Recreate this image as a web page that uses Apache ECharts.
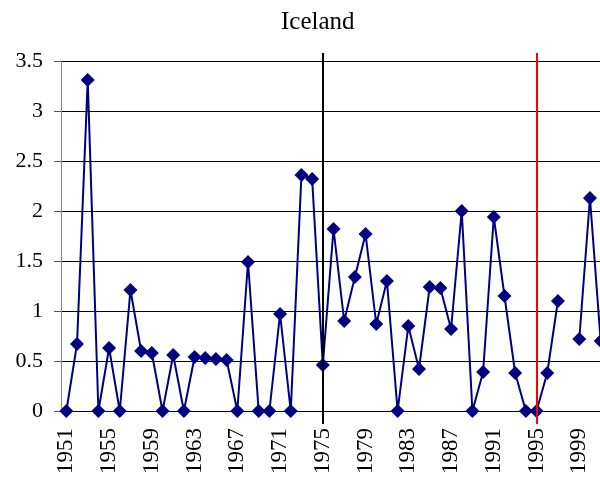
<!DOCTYPE html>
<html>
  <head>
    <meta charset="utf-8" />
    <script src="https://cdn.jsdelivr.net/npm/echarts@6.0.0/dist/echarts.min.js"></script>
    <style>
      html, body { margin: 0; padding: 0; background: #fff; }
    </style>
  </head>
  <body>
    <div id="main" style="width: 600px; height: 479px"></div>

    <script type="text/javascript">
      // years on the category axis, 1951..2001
      var years = [];
      for (var y = 1951; y <= 2001; y++) years.push(String(y));

      // Iceland values (1998 has no value)
      var values = [
        0, 0.67, 3.31, 0, 0.63, 0, 1.21, 0.60, 0.58, 0,
        0.56, 0, 0.54, 0.53, 0.52, 0.51, 0, 1.49, 0, 0,
        0.97, 0, 2.36, 2.32, 0.46, 1.82, 0.90, 1.34, 1.77, 0.87,
        1.30, 0, 0.85, 0.42, 1.24, 1.23, 0.82, 2.00, 0, 0.39,
        1.94, 1.15, 0.38, 0, 0, 0.38, 1.10, null, 0.72, 2.13,
        0.70
      ];

      // vertical marker years
      var blackLineYear = "1975";
      var redLineYear = "1995";

      var serif = "Liberation Serif";
      var myChart = echarts.init(document.getElementById("main"));

      var option = {
        animation: false,
        backgroundColor: "#fff",
        title: {
          text: "Iceland",
          left: 276,
          top: 5,
          textStyle: { fontFamily: serif, fontWeight: "normal", fontSize: 25, color: "#000" }
        },
        grid: [
          { left: 61, top: 61, width: 545, height: 350, outerBoundsMode: "none", containLabel: false },
          { left: 61, top: 53, width: 545, height: 371, outerBoundsMode: "none", containLabel: false }
        ],
        xAxis: [
          {
            type: "category",
            gridIndex: 0,
            data: years,
            boundaryGap: true,
            axisLine: { lineStyle: { color: "#000", width: 1 } },
            axisTick: { interval: 0, length: 7, lineStyle: { color: "#666" } },
            axisLabel: {
              interval: 3,
              rotate: 90,
              margin: 17,
              fontFamily: serif,
              fontSize: 23,
              color: "#000"
            }
          },
          {
            type: "category",
            gridIndex: 1,
            data: years,
            boundaryGap: true,
            show: false
          }
        ],
        yAxis: [
          {
            type: "value",
            gridIndex: 0,
            min: 0,
            max: 3.5,
            interval: 0.5,
            axisLine: { show: true, lineStyle: { color: "#888", width: 1 } },
            axisTick: { show: true, length: 7, lineStyle: { color: "#555" } },
            axisLabel: {
              margin: 18,
              fontFamily: serif,
              fontSize: 22,
              color: "#000"
            },
            splitLine: { lineStyle: { color: "#000", width: 1 } }
          },
          {
            type: "value",
            gridIndex: 1,
            min: 0,
            max: 1,
            show: false,
            splitLine: { show: false }
          }
        ],
        series: [
          {
            type: "line",
            xAxisIndex: 0,
            yAxisIndex: 0,
            data: values,
            connectNulls: false,
            showAllSymbol: true,
            symbol: "diamond",
            symbolSize: 14,
            lineStyle: { color: "#000080", width: 2 },
            itemStyle: { color: "#000080" },
            z: 2
          },
          {
            type: "line",
            xAxisIndex: 1,
            yAxisIndex: 1,
            data: [],
            z: 5,
            markLine: {
              silent: true,
              symbol: ["none", "none"],
              label: { show: false },
              data: [
                { xAxis: blackLineYear, lineStyle: { color: "#000", width: 2, type: "solid" } },
                { xAxis: redLineYear, lineStyle: { color: "#ff0000", width: 2, type: "solid" } }
              ]
            }
          }
        ]
      };

      myChart.setOption(option);
    </script>
  </body>
</html>
